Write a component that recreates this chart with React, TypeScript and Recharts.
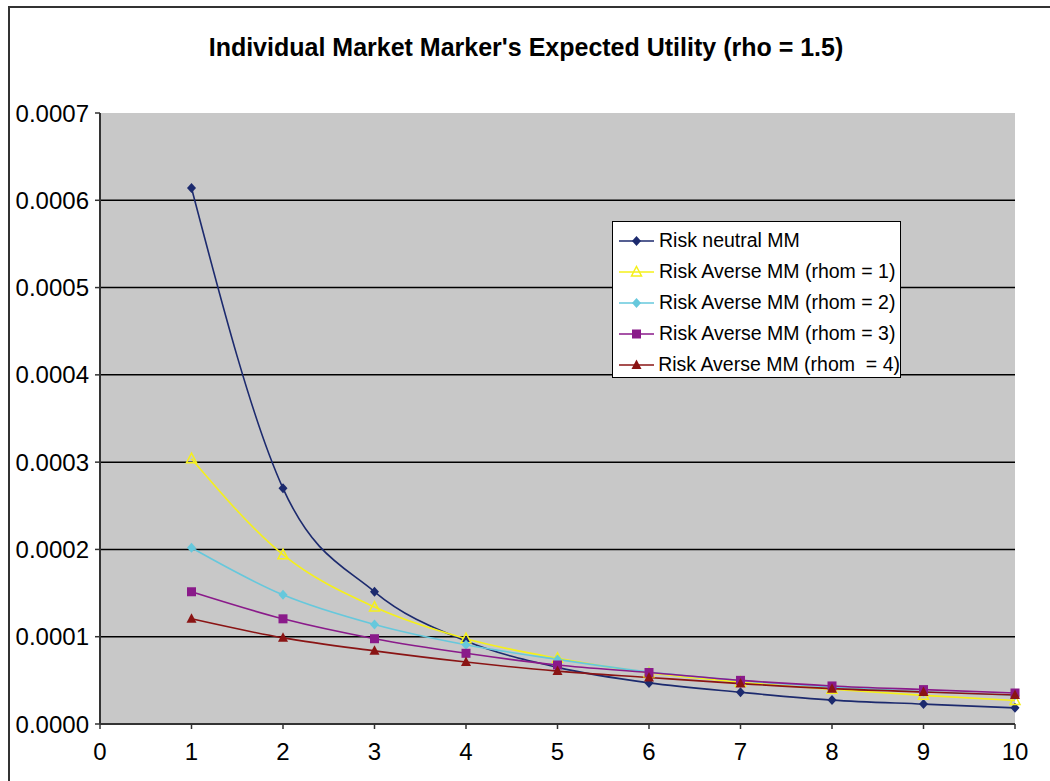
import React from 'react';
import { LineChart, Line, XAxis, YAxis, CartesianGrid, Legend } from 'recharts';

const periods = [1, 2, 3, 4, 5, 6, 7, 8, 9, 10];
const riskNeutral = [0.000614, 0.00027, 0.0001515, 0.000095, 0.0000649, 0.0000471, 0.0000363, 0.0000274, 0.0000228, 0.0000185];
const rhom1 = [0.000304, 0.000194, 0.000134, 0.0000977, 0.0000753, 0.0000587, 0.0000479, 0.0000398, 0.0000328, 0.000027];
const rhom2 = [0.000202, 0.000148, 0.000114, 0.0000907, 0.000074, 0.0000595, 0.0000498, 0.0000425, 0.000037, 0.000033];
const rhom3 = [0.0001515, 0.0001205, 0.0000977, 0.000081, 0.0000676, 0.000059, 0.00005, 0.0000436, 0.0000394, 0.0000355];
const rhom4 = [0.0001205, 0.0000987, 0.0000838, 0.000071, 0.0000606, 0.0000533, 0.0000463, 0.0000405, 0.0000367, 0.0000332];

const xTicks = [0, 1, 2, 3, 4, 5, 6, 7, 8, 9, 10];
const yTicks = [0, 0.0001, 0.0002, 0.0003, 0.0004, 0.0005, 0.0006, 0.0007];
const gridValues = [0.0001, 0.0002, 0.0003, 0.0004, 0.0005, 0.0006];

type Shape = 'diamond' | 'triangleOpen' | 'triangle' | 'square';

const series: { key: string; name: string; color: string; shape: Shape; values: number[] }[] = [
  { key: 'neutral', name: 'Risk neutral MM', color: '#1c2a6e', shape: 'diamond', values: riskNeutral },
  { key: 'r1', name: 'Risk Averse MM (rhom = 1)', color: '#f5f01a', shape: 'triangleOpen', values: rhom1 },
  { key: 'r2', name: 'Risk Averse MM (rhom = 2)', color: '#66c8dc', shape: 'diamond', values: rhom2 },
  { key: 'r3', name: 'Risk Averse MM (rhom = 3)', color: '#8a1a8a', shape: 'square', values: rhom3 },
  { key: 'r4', name: 'Risk Averse MM (rhom  = 4)', color: '#8a1414', shape: 'triangle', values: rhom4 },
];

const data = periods.map((x, i) => {
  const row: Record<string, number> = { x };
  series.forEach((s) => (row[s.key] = s.values[i]));
  return row;
});

const FONT = 'Arial, "Liberation Sans", sans-serif';

function Marker({ cx, cy, shape, color }: { cx: number; cy: number; shape: Shape; color: string }) {
  if (cx == null || cy == null) return null;
  if (shape === 'diamond') {
    return <polygon points={`${cx},${cy - 5} ${cx + 4.5},${cy} ${cx},${cy + 5} ${cx - 4.5},${cy}`} fill={color} />;
  }
  if (shape === 'square') {
    return <rect x={cx - 4.5} y={cy - 4.5} width={9} height={9} fill={color} />;
  }
  const pts = `${cx},${cy - 5.5} ${cx + 5},${cy + 4} ${cx - 5},${cy + 4}`;
  if (shape === 'triangleOpen') {
    return <polygon points={pts} fill="none" stroke={color} strokeWidth={1.5} />;
  }
  return <polygon points={pts} fill={color} />;
}

function LegendBox() {
  return (
    <div
      style={{
        width: 287,
        height: 152,
        border: '1px solid #000',
        background: '#fff',
        paddingTop: 3,
        fontFamily: FONT,
        fontSize: 19.5,
        color: '#000',
      }}
    >
      {series.map((s) => (
        <div key={s.key} style={{ height: 31, display: 'flex', alignItems: 'center', paddingLeft: 6 }}>
          <svg width={36} height={14}>
            <line x1={0} y1={7} x2={35} y2={7} stroke={s.color} strokeWidth={1.5} />
            <Marker cx={17.5} cy={7} shape={s.shape} color={s.color} />
          </svg>
          <span style={{ marginLeft: 4, whiteSpace: 'pre' }}>{s.name}</span>
        </div>
      ))}
    </div>
  );
}

export default function App() {
  return (
    <div style={{ position: 'absolute', left: 0, top: 0, width: 1050, height: 781, overflow: 'hidden', background: '#fff' }}>
      <div
        style={{
          position: 'absolute',
          left: 8,
          top: 6,
          width: 1100,
          height: 900,
          borderLeft: '2px solid #333',
          borderTop: '2px solid #333',
        }}
      />
      <div
        style={{
          position: 'absolute',
          left: 0,
          top: 35,
          width: 1052,
          textAlign: 'center',
          fontFamily: FONT,
          fontWeight: 'bold',
          fontSize: 25,
          lineHeight: '25px',
          color: '#000',
        }}
      >
        Individual Market Marker's Expected Utility (rho = 1.5)
      </div>
      <div style={{ position: 'absolute', left: 0, top: 0 }}>
        <LineChart width={1050} height={781} data={data} margin={{ top: 113, right: 35, left: 0, bottom: 0 }}>
          <CartesianGrid
            vertical={false}
            horizontalValues={gridValues}
            stroke="#000"
            strokeWidth={1.5}
            fill="#c8c8c8"
            fillOpacity={1}
          />
          <XAxis
            dataKey="x"
            type="number"
            domain={[0, 10]}
            ticks={xTicks}
            height={57}
            tickSize={5}
            tickMargin={14}
            axisLine={{ stroke: '#333', strokeWidth: 2 }}
            tickLine={{ stroke: '#333', strokeWidth: 1.5 }}
            tick={{ fill: '#000', fontSize: 24, fontFamily: FONT }}
            interval={0}
          />
          <YAxis
            type="number"
            domain={[0, 0.0007]}
            ticks={yTicks}
            width={100}
            tickSize={5}
            tickMargin={6}
            axisLine={{ stroke: '#333', strokeWidth: 2 }}
            tickLine={{ stroke: '#333', strokeWidth: 1.5 }}
            tick={{ fill: '#000', fontSize: 24, fontFamily: FONT }}
            tickFormatter={(v: number) => v.toFixed(4)}
            interval={0}
          />
          <Legend
            layout="vertical"
            align="center"
            verticalAlign="middle"
            content={() => <LegendBox />}
            wrapperStyle={{ position: 'absolute', left: 612, top: 221, width: 289, height: 158 }}
          />
          {series.map((s) => (
            <Line
              key={s.key}
              dataKey={s.key}
              name={s.name}
              type="monotone"
              stroke={s.color}
              strokeWidth={1.6}
              isAnimationActive={false}
              dot={(p: any) => <Marker key={`${s.key}-${p.index}`} cx={p.cx} cy={p.cy} shape={s.shape} color={s.color} />}
              activeDot={false}
            />
          ))}
        </LineChart>
      </div>
    </div>
  );
}
